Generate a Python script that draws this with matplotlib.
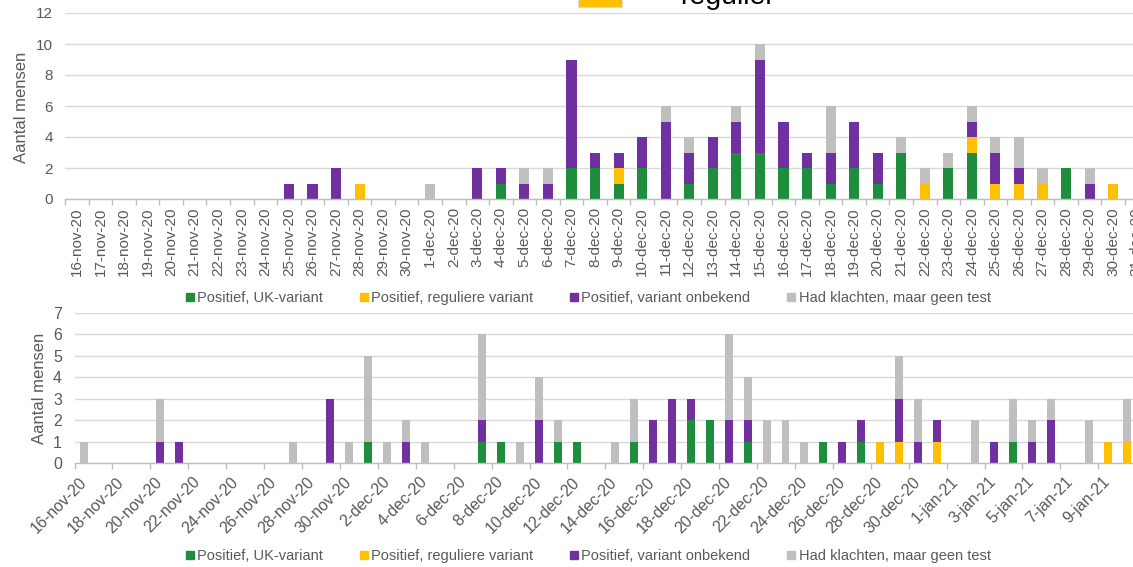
import matplotlib
matplotlib.use("Agg")
import matplotlib.pyplot as plt
import numpy as np
import pandas as pd
from matplotlib.lines import Line2D
from matplotlib.patches import Rectangle

plt.rcParams['font.family'] = ['Liberation Sans', 'DejaVu Sans']

MONTHS = {11: 'nov', 12: 'dec', 1: 'jan'}

# ---------------- data: top chart (16-nov-20 .. 31-dec-20) ----------------
top_dates = pd.date_range('2020-11-16', '2020-12-31')
top_labels = [f"{d.day}-{MONTHS[d.month]}-{str(d.year)[2:]}" for d in top_dates]

top_uk = [0, 0, 0, 0, 0, 0, 0, 0, 0,
          0, 0, 0, 0, 0, 0, 0, 0, 0, 1, 0, 0, 2, 2, 1, 2, 0, 1, 2, 3, 3,
          2, 2, 1, 2, 1, 3, 0, 2, 3, 0, 0, 0, 2, 0, 0, 0]
top_reg = [0, 0, 0, 0, 0, 0, 0, 0, 0,
           0, 0, 0, 1, 0, 0, 0, 0, 0, 0, 0, 0, 0, 0, 1, 0, 0, 0, 0, 0, 0,
           0, 0, 0, 0, 0, 0, 1, 0, 1, 1, 1, 1, 0, 0, 1, 0]
top_unk = [0, 0, 0, 0, 0, 0, 0, 0, 0,
           1, 1, 2, 0, 0, 0, 0, 0, 2, 1, 1, 1, 7, 1, 1, 2, 5, 2, 2, 2, 6,
           3, 1, 2, 3, 2, 0, 0, 0, 1, 2, 1, 0, 0, 1, 0, 0]
top_notest = [0, 0, 0, 0, 0, 0, 0, 0, 0,
              0, 0, 0, 0, 0, 0, 1, 0, 0, 0, 1, 1, 0, 0, 0, 0, 1, 1, 0, 1, 1,
              0, 0, 3, 0, 0, 1, 1, 1, 1, 1, 2, 1, 0, 1, 0, 0]

# ---------------- data: bottom chart (16-nov-20 .. 10-jan-21) ----------------
bot_dates = pd.date_range('2020-11-16', '2021-01-10')
bot_labels = [f"{d.day}-{MONTHS[d.month]}-{str(d.year)[2:]}" for d in bot_dates]

bot_uk = [0, 0, 0, 0, 0, 0, 0, 0, 0, 0, 0, 0, 0, 0, 0, 1, 0, 0, 0, 0,
          0, 1, 1, 0, 0, 1, 1, 0, 0, 1, 0, 0, 2, 2, 0, 1, 0, 0, 0, 1,
          0, 1, 0, 0, 0, 0, 0, 0, 0, 1, 0, 0, 0, 0, 0, 0]
bot_reg = [0, 0, 0, 0, 0, 0, 0, 0, 0, 0, 0, 0, 0, 0, 0, 0, 0, 0, 0, 0,
           0, 0, 0, 0, 0, 0, 0, 0, 0, 0, 0, 0, 0, 0, 0, 0, 0, 0, 0, 0,
           0, 0, 1, 1, 0, 1, 0, 0, 0, 0, 0, 0, 0, 0, 1, 1]
bot_unk = [0, 0, 0, 0, 1, 1, 0, 0, 0, 0, 0, 0, 0, 3, 0, 0, 0, 1, 0, 0,
           0, 1, 0, 0, 2, 0, 0, 0, 0, 0, 2, 3, 1, 0, 2, 1, 0, 0, 0, 0,
           1, 1, 0, 2, 1, 1, 0, 0, 1, 0, 1, 2, 0, 0, 0, 0]
bot_notest = [1, 0, 0, 0, 2, 0, 0, 0, 0, 0, 0, 1, 0, 0, 1, 4, 1, 1, 1, 0,
              0, 4, 0, 1, 2, 1, 0, 0, 1, 2, 0, 0, 0, 0, 4, 2, 2, 2, 1, 0,
              0, 0, 0, 2, 2, 0, 0, 2, 0, 2, 1, 1, 0, 2, 0, 2]

series_names = ['Positief, UK-variant', 'Positief, reguliere variant',
                'Positief, variant onbekend', 'Had klachten, maar geen test']
colors = ['#1E8E3E', '#FFC000', '#7030A0', '#BFBFBF']

TXT = '#595959'
GRID = '#D9D9D9'
AXL = '#BFBFBF'

W, H = 1133, 567
fig = plt.figure(figsize=(W / 100, H / 100), dpi=100)


def px_axes(left, right, top, bottom):
    return fig.add_axes([left / W, 1 - bottom / H, (right - left) / W, (bottom - top) / H])


def stacked(ax, series, width):
    x = np.arange(len(series[0]))
    base = np.zeros(len(x))
    for vals, c in zip(series, colors):
        v = np.array(vals, dtype=float)
        ax.bar(x, v, width=width, bottom=base, color=c, linewidth=0, zorder=3)
        base += v
    return x


def style(ax, n, ymax, ystep, ysize):
    ax.set_xlim(-0.5, n - 0.5)
    ax.set_ylim(0, ymax)
    ax.set_yticks(np.arange(0, ymax + 0.1, ystep))
    ax.yaxis.grid(True, color=GRID, linewidth=1.0, zorder=0)
    ax.set_axisbelow(True)
    for s in ['top', 'right', 'left']:
        ax.spines[s].set_visible(False)
    ax.spines['bottom'].set_color(AXL)
    ax.spines['bottom'].set_linewidth(1.0)
    ax.spines['bottom'].set_zorder(4)
    ax.tick_params(axis='y', length=0, pad=9, labelsize=ysize, labelcolor=TXT)
    ax.tick_params(axis='x', which='major', length=0, labelcolor=TXT)
    ax.tick_params(axis='x', which='minor', length=4, color=AXL, width=1)


# ---------------- top chart ----------------
n_top = len(top_labels)
ax1 = px_axes(65.2, 65.2 + n_top * 23.55, 13, 199)
x1 = stacked(ax1, [top_uk, top_reg, top_unk, top_notest], 0.43)
style(ax1, n_top, 12, 2, 11)
ax1.set_xticks(x1)
ax1.set_xticklabels(top_labels, rotation=90, fontsize=11, ha='center', va='top')
ax1.set_xticks(np.arange(-0.5, n_top, 1), minor=True)
ax1.tick_params(axis='x', which='major', pad=6)

# ---------------- bottom chart ----------------
n_bot = len(bot_labels)
ax2 = px_axes(74.5, 74.5 + n_bot * 18.96, 313, 463)
x2 = stacked(ax2, [bot_uk, bot_reg, bot_unk, bot_notest], 0.42)
style(ax2, n_bot, 7, 1, 11.5)
ax2.set_xticks(x2[::2])
ax2.set_xticklabels(bot_labels[::2], rotation=45, fontsize=11.5, ha='right',
                    va='center', rotation_mode='anchor')
ax2.set_xticks(np.arange(-0.5, n_bot, 2), minor=True)
ax2.tick_params(axis='x', which='major', pad=12)

# y labels
fig.text(22 / W, 1 - 107 / H, 'Aantal mensen', rotation=90, ha='center', va='center',
         fontsize=12, color=TXT)
fig.text(40 / W, 1 - 388 / H, 'Aantal mensen', rotation=90, ha='center', va='center',
         fontsize=12, color=TXT)

# legends
handles = [Line2D([0], [0], marker='s', linestyle='none', markersize=6,
                  markerfacecolor=c, markeredgecolor=c) for c in colors]
for yc in (298, 556):
    fig.legend(handles, series_names, loc='center', bbox_to_anchor=(588 / W, 1 - yc / H),
               ncol=4, frameon=False, fontsize=10.5, handlelength=0.6,
               handletextpad=0.2, columnspacing=2.5, labelcolor=TXT)

# cropped overlay fragment at the very top
fig.patches.append(Rectangle((578 / W, 1 - 7 / H), 44 / W, 20 / H,
                             transform=fig.transFigure, facecolor='#FFC000',
                             edgecolor='#D9D9D9', linewidth=0.8, zorder=5))
fig.text(680 / W, 1 - 4 / H, 'regulier', fontsize=20.5, color='black',
         ha='left', va='baseline')

fig.savefig('out.png', dpi=100)
